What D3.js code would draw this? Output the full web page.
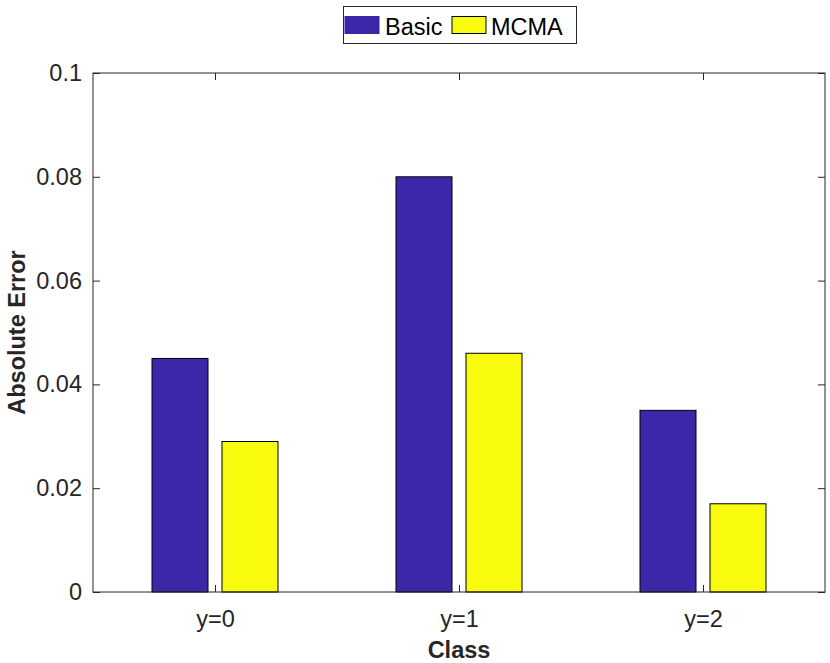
<!DOCTYPE html>
<html><head><meta charset="utf-8">
<script src="https://cdn.jsdelivr.net/npm/d3@7"></script>
<style>body{margin:0;background:#fff}svg{display:block}text{font-family:"Liberation Sans",Arial,Helvetica,sans-serif}</style>
</head><body>
<script>
const categories = ["y=0", "y=1", "y=2"];
const seriesNames = ["Basic", "MCMA"];
const basicValues = [0.045, 0.080, 0.035];
const mcmaValues = [0.029, 0.046, 0.017];
const yTicks = [0, 0.02, 0.04, 0.06, 0.08, 0.1];
const yTickLabels = ["0", "0.02", "0.04", "0.06", "0.08", "0.1"];
const colors = ["#3d26a8", "#f9fb0e"];

const W = 830, H = 663;
const L = 93, R = 825, T = 73, B = 592;
const svg = d3.select("body").append("svg").attr("width", W).attr("height", H);

const x = d3.scaleLinear().domain([0.5, 3.5]).range([L, R]);
const y = d3.scaleLinear().domain([0, 0.1]).range([B, T]);
const barW = 56, off = 35;

const series = [basicValues, mcmaValues];
series.forEach((vals, si) => {
  svg.append("g").selectAll("rect").data(vals).join("rect")
    .attr("x", (d, i) => x(i + 1) + (si === 0 ? -off : off) - barW / 2)
    .attr("y", d => y(d))
    .attr("width", barW)
    .attr("height", d => B - y(d))
    .attr("fill", colors[si])
    .attr("stroke", "#000").attr("stroke-width", 1);
});

const axisCol = "#262626";
svg.append("rect").attr("x", L).attr("y", T).attr("width", R - L).attr("height", B - T)
  .attr("fill", "none").attr("stroke", axisCol).attr("stroke-width", 1);

const FS = 23.5;
const yAxis = d3.axisLeft(y).tickValues(yTicks).tickSize(-7).tickFormat((d, i) => yTickLabels[i]).tickPadding(11);
const gy = svg.append("g").attr("transform", `translate(${L},0)`).call(yAxis);
gy.select(".domain").remove();
gy.selectAll("line").attr("stroke", axisCol);
gy.selectAll("text").attr("font-size", FS).attr("fill", axisCol);
const yAxisR = d3.axisRight(y).tickValues(yTicks).tickSize(-7).tickFormat("");
const gyr = svg.append("g").attr("transform", `translate(${R},0)`).call(yAxisR);
gyr.select(".domain").remove();
gyr.selectAll("line").attr("stroke", axisCol);

const xAxis = d3.axisBottom(x).tickValues([1, 2, 3]).tickSize(-7).tickFormat((d, i) => categories[i]).tickPadding(18);
const gx = svg.append("g").attr("transform", `translate(0,${B})`).call(xAxis);
gx.select(".domain").remove();
gx.selectAll("line").attr("stroke", axisCol);
gx.selectAll("text").attr("font-size", FS).attr("fill", axisCol);
const xAxisT = d3.axisTop(x).tickValues([1, 2, 3]).tickSize(-7).tickFormat("");
const gxt = svg.append("g").attr("transform", `translate(0,${T})`).call(xAxisT);
gxt.select(".domain").remove();
gxt.selectAll("line").attr("stroke", axisCol);

svg.append("text").attr("x", (L + R) / 2).attr("y", 658).attr("text-anchor", "middle")
  .attr("font-size", FS).attr("font-weight", "bold").attr("fill", axisCol).text("Class");
svg.append("text").attr("transform", `translate(25,${(T + B) / 2}) rotate(-90)`).attr("text-anchor", "middle")
  .attr("font-size", FS).attr("font-weight", "bold").attr("fill", axisCol).text("Absolute Error");

const lg = svg.append("g");
lg.append("rect").attr("x", 343.5).attr("y", 6.5).attr("width", 233).attr("height", 37)
  .attr("fill", "#fff").attr("stroke", axisCol).attr("stroke-width", 1);
const items = [{sx: 345, tx: 385}, {sx: 452, tx: 491}];
seriesNames.forEach((n, i) => {
  lg.append("rect").attr("x", items[i].sx).attr("y", 16.5).attr("width", 34).attr("height", 17)
    .attr("fill", colors[i]).attr("stroke", i === 0 ? colors[0] : "#000");
  lg.append("text").attr("x", items[i].tx).attr("y", 34.5).attr("font-size", FS).attr("fill", "#000").text(n);
});
</script>
</body></html>
